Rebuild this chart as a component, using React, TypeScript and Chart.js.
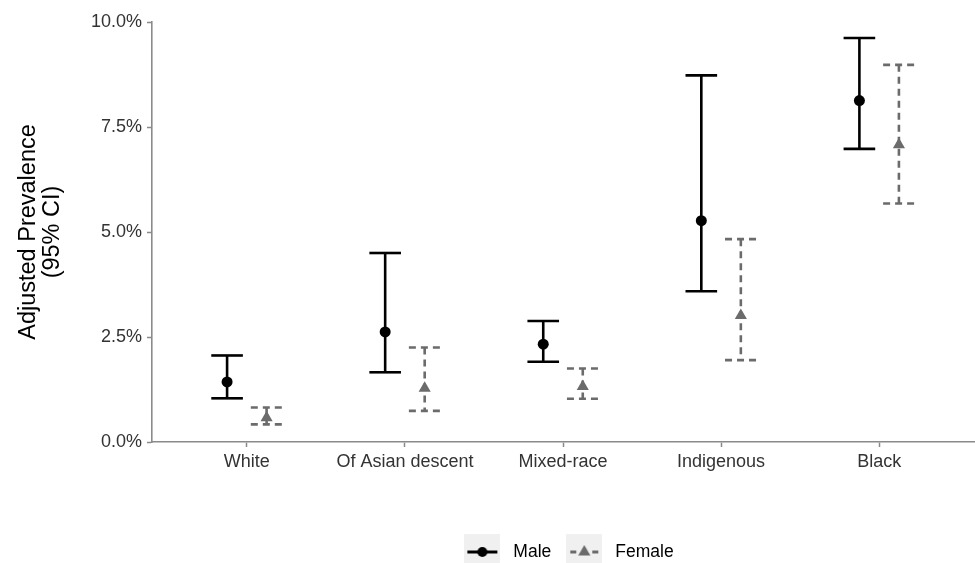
import React, { useEffect, useRef } from "react";
import { Chart, registerables } from "chart.js";

Chart.register(...registerables);

const categories = ["White", "Of Asian descent", "Mixed-race", "Indigenous", "Black"];
const seriesNames = ["Male", "Female"];
const maleMean = [1.43, 2.62, 2.33, 5.27, 8.13];
const maleLower = [1.04, 1.66, 1.91, 3.59, 6.98];
const maleUpper = [2.06, 4.5, 2.88, 8.73, 9.62];
const femaleMean = [0.58, 1.28, 1.32, 3.01, 7.08];
const femaleLower = [0.42, 0.74, 1.03, 1.95, 5.68];
const femaleUpper = [0.82, 2.25, 1.75, 4.83, 8.98];
const yTicks = [0, 2.5, 5, 7.5, 10];

const DODGE = 0.125;
const CAP_HALF = 0.1;
const MALE_COLOR = "#000000";
const FEMALE_COLOR = "#6b6b6b";
const AXIS_COLOR = "#8a8a8a";
const TICK_TEXT = "#333333";
const FONT = "'Liberation Sans', Arial, sans-serif";

function makeKey(color: string, dashed: boolean, marker: "circle" | "triangle") {
  const c = document.createElement("canvas");
  c.width = 36;
  c.height = 36;
  const g = c.getContext("2d")!;
  g.fillStyle = "#f0f0f0";
  g.fillRect(0, 0, 36, 36);
  g.strokeStyle = color;
  g.fillStyle = color;
  g.lineWidth = 3;
  g.beginPath();
  if (dashed) {
    g.moveTo(4, 18);
    g.lineTo(10, 18);
    g.moveTo(26, 18);
    g.lineTo(32, 18);
  } else {
    g.moveTo(3, 18);
    g.lineTo(33, 18);
  }
  g.stroke();
  g.beginPath();
  if (marker === "circle") {
    g.arc(18, 18, 5, 0, Math.PI * 2);
  } else {
    const r = 7;
    g.moveTo(18, 18 - r);
    g.lineTo(18 + r * 0.866, 18 + r / 2);
    g.lineTo(18 - r * 0.866, 18 + r / 2);
    g.closePath();
  }
  g.fill();
  return c;
}

const errorBarPlugin = {
  id: "errorBars",
  beforeDatasetsDraw(chart: any) {
    const { ctx, scales } = chart;
    const xs = scales.x;
    const ys = scales.y;
    chart.data.datasets.forEach((ds: any) => {
      ctx.save();
      ctx.strokeStyle = ds.errColor;
      ctx.lineWidth = 2.6;
      ctx.lineCap = "butt";
      ctx.setLineDash(ds.errDash);
      ds.data.forEach((p: any, i: number) => {
        const cx = xs.getPixelForValue(p.x);
        const xl = xs.getPixelForValue(p.x - CAP_HALF);
        const xr = xs.getPixelForValue(p.x + CAP_HALF);
        const yt = ys.getPixelForValue(ds.errHigh[i]);
        const yb = ys.getPixelForValue(ds.errLow[i]);
        ctx.beginPath();
        ctx.moveTo(xl, yt);
        ctx.lineTo(xr, yt);
        ctx.stroke();
        ctx.beginPath();
        ctx.moveTo(cx, yt);
        ctx.lineTo(cx, yb);
        ctx.stroke();
        ctx.beginPath();
        ctx.moveTo(xl, yb);
        ctx.lineTo(xr, yb);
        ctx.stroke();
      });
      ctx.restore();
    });
  },
};

function makeLegendPlugin(keys: HTMLCanvasElement[]) {
  return {
    id: "keyLegend",
    afterDraw(chart: any) {
      const { ctx, chartArea } = chart;
      const KEY = 36;
      const GAP_TEXT = 13;
      const GAP_ITEM = 15;
      ctx.save();
      ctx.font = `17.5px ${FONT}`;
      const widths = seriesNames.map((n) => ctx.measureText(n).width);
      const total = widths.reduce(
        (s, w, i) => s + KEY + GAP_TEXT + w + (i < widths.length - 1 ? GAP_ITEM : 0),
        0
      );
      let x = (chartArea.left + chartArea.right) / 2 - total / 2 + 6;
      const cy = chart.height - 11;
      ctx.textBaseline = "middle";
      ctx.textAlign = "left";
      ctx.fillStyle = "#000";
      seriesNames.forEach((n, i) => {
        ctx.drawImage(keys[i], x, cy - KEY / 2);
        x += KEY + GAP_TEXT;
        ctx.fillText(n, x, cy);
        x += widths[i] + GAP_ITEM;
      });
      ctx.restore();
    },
  };
}

export default function App() {
  const ref = useRef<HTMLCanvasElement | null>(null);

  useEffect(() => {
    if (!ref.current) return;
    Chart.defaults.font.family = FONT;
    const keys = [
      makeKey(MALE_COLOR, false, "circle"),
      makeKey(FEMALE_COLOR, true, "triangle"),
    ];

    const chart = new Chart(ref.current, {
      type: "scatter",
      data: {
        datasets: [
          {
            label: seriesNames[0],
            data: maleMean.map((v, i) => ({ x: i - DODGE, y: v })),
            pointStyle: "circle",
            pointRadius: 5.5,
            pointBackgroundColor: MALE_COLOR,
            pointBorderWidth: 0,
            errLow: maleLower,
            errHigh: maleUpper,
            errColor: MALE_COLOR,
            errDash: [],
          } as any,
          {
            label: seriesNames[1],
            data: femaleMean.map((v, i) => ({ x: i + DODGE, y: v })),
            pointStyle: "triangle",
            pointRadius: 7,
            pointBackgroundColor: FEMALE_COLOR,
            pointBorderWidth: 0,
            errLow: femaleLower,
            errHigh: femaleUpper,
            errColor: FEMALE_COLOR,
            errDash: [7, 5],
          } as any,
        ],
      },
      options: {
        animation: false,
        responsive: false,
        devicePixelRatio: 1,
        layout: { autoPadding: false, padding: { top: 22, right: 1, bottom: 0, left: 0 } },
        plugins: {
          tooltip: { enabled: false },
          legend: { display: false },
        },
        scales: {
          x: {
            type: "linear",
            min: -0.6,
            max: categories.length - 0.4,
            afterBuildTicks: (scale: any) => {
              scale.ticks = categories.map((_, i) => ({ value: i }));
            },
            afterFit: (scale: any) => {
              scale.height = 121;
              scale.paddingLeft = 0;
              scale.paddingRight = 0;
            },
            ticks: {
              autoSkip: false,
              maxRotation: 0,
              padding: 4,
              color: TICK_TEXT,
              font: { size: 18, family: FONT },
              callback: (v: any) => categories[Math.round(Number(v))] ?? "",
            },
            grid: {
              drawOnChartArea: false,
              drawTicks: true,
              tickLength: 5,
              tickWidth: 1.5,
              tickColor: AXIS_COLOR,
            },
            border: { display: true, color: AXIS_COLOR, width: 1.6 },
          },
          y: {
            type: "linear",
            min: 0,
            max: 10,
            afterBuildTicks: (scale: any) => {
              scale.ticks = yTicks.map((v) => ({ value: v }));
            },
            afterFit: (scale: any) => {
              scale.width = 152;
            },
            ticks: {
              padding: 5,
              color: TICK_TEXT,
              font: { size: 18, family: FONT },
              callback: (v: any) => Number(v).toFixed(1) + "%",
            },
            grid: {
              drawOnChartArea: false,
              drawTicks: true,
              tickLength: 5,
              tickWidth: 1.5,
              tickColor: AXIS_COLOR,
            },
            border: { display: true, color: AXIS_COLOR, width: 1.6 },
            title: {
              display: true,
              text: ["Adjusted Prevalence", "(95% CI)"],
              color: "#000",
              font: { size: 23.5, family: FONT, lineHeight: 1.0 },
              padding: { top: 17, bottom: 0 },
            },
          },
        },
      },
      plugins: [errorBarPlugin, makeLegendPlugin(keys)],
    });

    return () => chart.destroy();
  }, []);

  return (
    <div style={{ position: "fixed", left: 0, top: 0, width: 975, height: 563, background: "#fff" }}>
      <canvas ref={ref} width={975} height={563} />
    </div>
  );
}
